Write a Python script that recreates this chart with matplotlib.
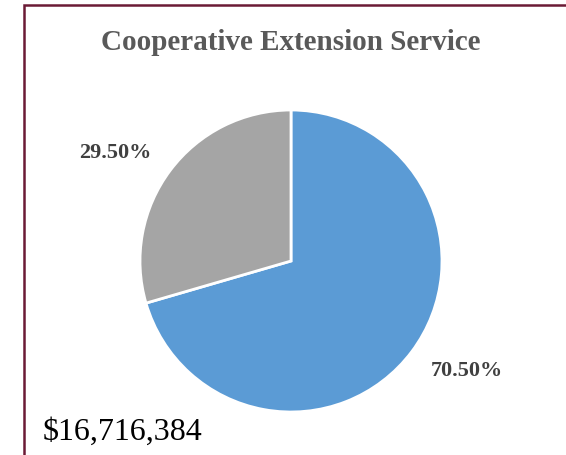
import numpy as np
import matplotlib.pyplot as plt
from matplotlib.patches import Rectangle

# data
categories = ['A', 'B']
shares = [70.50, 29.50]
colors = ['#5B9BD5', '#A5A5A5']
title = 'Cooperative Extension Service'
total_label = '$16,716,384'

W, H = 566, 456
fig = plt.figure(figsize=(W / 100, H / 100), dpi=100)

# maroon frame (left and top visible)
fig.patches.append(Rectangle((24 / W, -0.05), 1.2, (H - 6) / H + 0.05,
                             transform=fig.transFigure, fill=False,
                             edgecolor='#6B1A35', linewidth=1.8))

# pie axes
cx, cy, r = 291, 262, 151
ax = fig.add_axes([(cx - r) / W, (H - cy - r) / H, 2 * r / W, 2 * r / H])
wedges, _ = ax.pie(shares, colors=colors, startangle=90, counterclock=False,
                   radius=1, wedgeprops=dict(edgecolor='white', linewidth=2))
ax.set_xlim(-1, 1)
ax.set_ylim(-1, 1)
ax.axis('off')

# percentage labels outside
for w, s in zip(wedges, shares):
    mid = np.deg2rad((w.theta1 + w.theta2) / 2 + 5)
    ax.text(1.37 * np.cos(mid), 1.37 * np.sin(mid), f'{s:.2f}%',
            ha='center', va='center', fontsize=16, fontweight='bold',
            family='Liberation Serif', color='#404040', clip_on=False)

fig.text(291 / W, 1 - 50 / H, title, ha='center', va='baseline',
         fontsize=21, fontweight='bold', family='Liberation Serif',
         color='#595959')
fig.text(43 / W, 1 - 440 / H, total_label, ha='left', va='baseline',
         fontsize=23, family='Liberation Serif', color='black')

fig.savefig('out.png', dpi=100)
